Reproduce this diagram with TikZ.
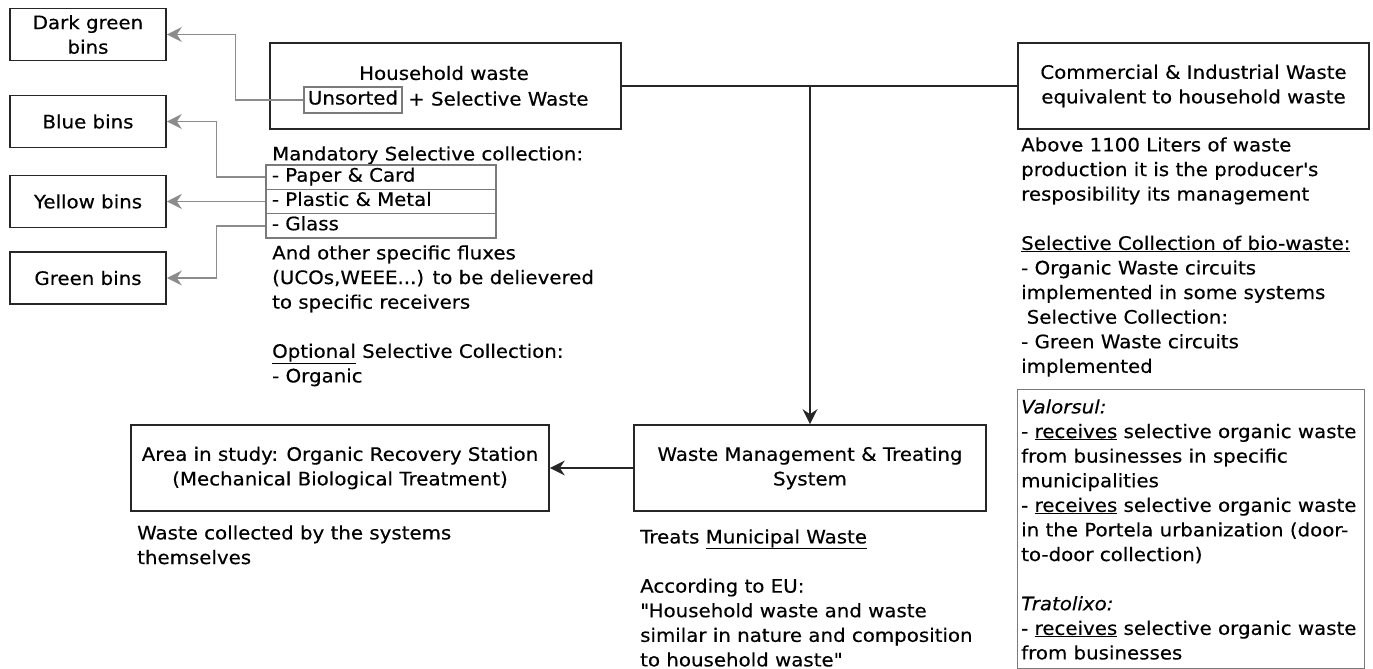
\documentclass[tikz,border=0pt]{standalone}
\usepackage{fontspec}
\setmainfont{DejaVu Sans}[FakeStretch=1.07, FakeBold=0.4]
\usetikzlibrary{arrows.meta}

\definecolor{boxline}{HTML}{262626}
\definecolor{connline}{HTML}{8C8C8C}
\definecolor{thinline}{HTML}{7A7A7A}

\tikzset{
  every node/.style={font=\fontsize{18.5}{24.6}\selectfont, text=black},
  bigbox/.style={draw=boxline, line width=1.7pt, rectangle, inner sep=0pt, align=center},
  binbox/.style={bigbox, minimum width=156pt, minimum height=52pt},
  thinbox/.style={draw=thinline, line width=1.2pt, rectangle},
  rowbox/.style={thinbox, minimum width=230pt, minimum height=24.3pt, inner xsep=6pt,
                 inner ysep=0pt, text width=218pt, align=left, text height=13pt, text depth=4pt},
  txt/.style={anchor=north west, inner sep=0pt, align=left},
  tipshape/.style={-{Stealth[length=15pt,width=15pt,inset=5pt]}},
  conn/.style={draw=connline, line width=1.6pt, tipshape},
  mainline/.style={draw=boxline, line width=1.7pt},
  mainarrow/.style={mainline, tipshape}
}

\begin{document}
\begin{tikzpicture}[x=1pt, y=-1pt]
\useasboundingbox (0,0) rectangle (1373,669);

% colour-coded bins on the left
\node[binbox] (dgbins)     at (88,34.5)   {Dark green\\bins};
\node[binbox] (bluebins)   at (88,121.5)  {Blue bins};
\node[binbox] (yellowbins) at (88,201.45) {Yellow bins};
\node[binbox] (greenbins)  at (88,278)    {Green bins};

% household waste
\node[bigbox, minimum width=351pt, minimum height=86pt] (household) at (445.5,86) {};
\node[inner sep=0pt] (hhtitle) at (444,73) {Household waste};
\node[thinbox, inner xsep=4pt, inner ysep=0pt, minimum height=26pt,
      text height=13pt, text depth=4pt] (unsorted) at (353,100) {Unsorted};
\node[anchor=base west, inner sep=0pt] (selective) at (408,105.5) {+ Selective Waste};

% commercial & industrial waste
\node[bigbox, minimum width=351pt, minimum height=86pt] (commercial) at (1193.5,86)
  {Commercial \& Industrial Waste\\equivalent to household waste};

% mandatory selective collection
\node[txt] (mandatory) at (272,143) {\strut Mandatory Selective collection:};
\node[rowbox] (paper)   at (381,177.15) {- Paper \& Card};
\node[rowbox] (plastic) at (381,201.45) {- Plastic \& Metal};
\node[rowbox] (glass)   at (381,225.75) {- Glass};
\node[txt] (others) at (272,242)
  {\strut And other specific fluxes\\(UCOs,WEEE...) to be delievered\\to specific receivers\\[24.6pt]%
   \underline{Optional} Selective Collection:\\- Organic};

% producer responsibility and bio-waste
\node[txt] (producer) at (1021,134)
  {\strut Above 1100 Liters of waste\\production it is the producer\textquotesingle s\\resposibility its management\\[24.6pt]%
   \underline{Selective Collection of bio-waste:}\\- Organic Waste circuits\\implemented in some systems\\%
   \hspace*{0.3em}Selective Collection:\\- Green Waste circuits\\implemented};

% treatment systems
\node[thinbox, inner sep=0pt, anchor=north west, minimum width=347pt, minimum height=279pt]
  (valbox) at (1017,389) {};
\node[txt] (valtext) at (1021,396)
  {\strut\textit{Valorsul:}\\- \underline{receives} selective organic waste\\from businesses in specific\\municipalities\\%
   - \underline{receives} selective organic waste\\in the Portela urbanization (door-\\to-door collection)\\[24.6pt]%
   \textit{Tratolixo:}\\- \underline{receives} selective organic waste\\from businesses};

% lower row
\node[bigbox, minimum width=352pt, minimum height=86pt] (wm) at (810,468)
  {Waste Management \& Treating\\System};
\node[bigbox, minimum width=418pt, minimum height=86pt] (area) at (340,468)
  {Area in study: Organic Recovery Station\\(Mechanical Biological Treatment)};
\node[txt] (collected) at (137,522) {\strut Waste collected by the systems\\themselves};
\node[txt] (treats) at (640,526)
  {\strut Treats \underline{Municipal Waste}\\[24.6pt]According to EU:\\\textquotedbl Household waste and waste\\%
   similar in nature and composition\\to household waste\textquotedbl};

% connectors
\coordinate (junction) at (wm.north |- household.east);
\draw[mainline] (household.east) -- (commercial.west);
\draw[mainarrow] (junction) -- (wm.north);
\draw[mainarrow] (wm.west) -- (area.east);

\draw[conn] (unsorted.west) -- ++(-68,0) |- (dgbins.east);
\draw[conn] (paper.west) -- ++(-49,0) |- (bluebins.east);
\draw[conn] (plastic.west) -- (yellowbins.east);
\draw[conn] (glass.west) -- ++(-49,0) |- (greenbins.east);
\end{tikzpicture}
\end{document}
